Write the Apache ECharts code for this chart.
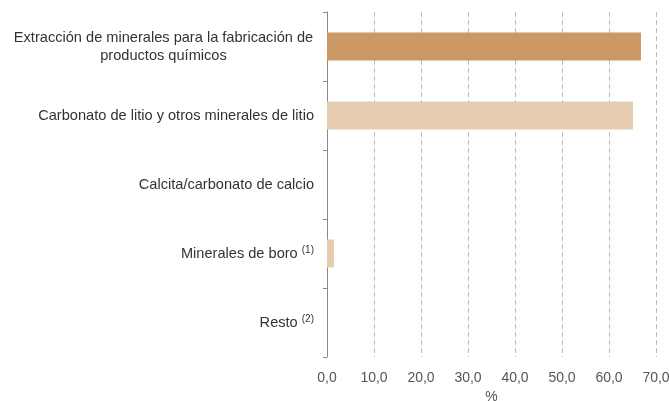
<!DOCTYPE html>
<html>
<head>
<meta charset="utf-8">
<script src="https://cdn.jsdelivr.net/npm/echarts@6/dist/echarts.min.js"></script>
<style>html,body{margin:0;padding:0;background:#fff}#c{width:669px;height:401px}</style>
</head>
<body>
<div id="c"></div>
<script>
const categories = [
  'Extracción de minerales para la fabricación de\nproductos químicos',
  'Carbonato de litio y otros minerales de litio',
  'Calcita/carbonato de calcio',
  'Minerales de boro',
  'Resto'
];
const notes = ['', '', '', '(1)', '(2)'];
const values = [66.8, 65.1, 0, 1.5, 0];
const barColors = ['#cc9866', '#e6cdb2', '#e6cdb2', '#e6cdb2', '#e6cdb2'];
const xTicks = { min: 0, max: 70, step: 10 };
const xName = '%';

const chart = echarts.init(document.getElementById('c'), null, { renderer: 'canvas' });
const FONT = '"Liberation Sans", Arial, sans-serif';
chart.setOption({
  animation: false,
  grid: { left: 327, right: 13, top: 12, bottom: 44, containLabel: false, outerBoundsMode: 'none' },
  xAxis: {
    type: 'value', min: xTicks.min, max: xTicks.max, interval: xTicks.step,
    name: xName, nameLocation: 'middle', nameGap: 32,
    nameTextStyle: { color: '#555', fontSize: 14, fontFamily: FONT },
    axisLine: { show: false }, axisTick: { show: false },
    axisLabel: { color: '#555', fontSize: 14, fontFamily: FONT, margin: 14,
      formatter: v => v.toFixed(1).replace('.', ',') },
    splitLine: { show: true, lineStyle: { type: [5, 3], color: '#bdbdbd', width: 1 },
      showMinLine: false }
  },
  yAxis: {
    type: 'category', data: categories, inverse: true,
    axisLine: { show: true, lineStyle: { color: '#8a8a8a', width: 1 } },
    axisTick: { show: true, length: 4, inside: false, lineStyle: { color: '#8a8a8a' } },
    axisLabel: {
      margin: 13, color: '#333', fontSize: 14.6, fontFamily: FONT, lineHeight: 18,
      formatter: (v, i) => {
        if (i === 0) {
          return v.split('\n').map(s => '{c|' + s + '}').join('\n');
        }
        return notes[i] ? v + ' {sup|' + notes[i] + '}' : v;
      },
      rich: {
        c: { width: 301, align: 'center', fontSize: 14.6, fontFamily: FONT, color: '#333', lineHeight: 18 },
        sup: { fontSize: 10, fontFamily: FONT, color: '#333', padding: [0, 0, 7, 0] }
      }
    }
  },
  series: [{
    type: 'bar', barWidth: 28,
    data: values.map((v, i) => ({ value: v, itemStyle: { color: barColors[i] } }))
  }]
});
</script>
</body>
</html>
